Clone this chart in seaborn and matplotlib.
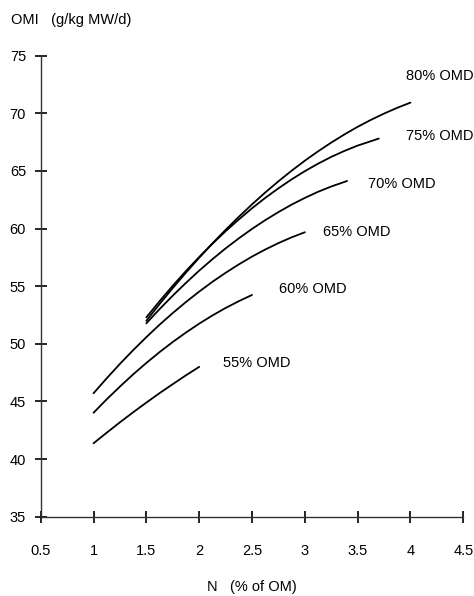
import matplotlib
matplotlib.use("Agg")
import matplotlib.pyplot as plt
import seaborn as sns
import pandas as pd

# ---- data ----
omd_labels = ["55% OMD", "60% OMD", "65% OMD", "70% OMD", "75% OMD", "80% OMD"]
n_55 = [1.0, 1.125, 1.25, 1.375, 1.5, 1.625, 1.75, 1.875, 2.0]
omi_55 = [41.37, 42.29, 43.19, 44.06, 44.90, 45.72, 46.50, 47.27, 48.00]
n_60 = [1.0, 1.125, 1.25, 1.375, 1.5, 1.625, 1.75, 1.875, 2.0, 2.125, 2.25, 2.375, 2.5]
omi_60 = [44.02, 45.19, 46.29, 47.35, 48.34, 49.28, 50.16, 50.98, 51.75, 52.46, 53.11,
          53.70, 54.24]
n_65 = [1.0, 1.125, 1.25, 1.375, 1.5, 1.625, 1.75, 1.875, 2.0, 2.125, 2.25, 2.375,
        2.5, 2.625, 2.75, 2.875, 3.0]
omi_65 = [45.71, 47.01, 48.26, 49.45, 50.58, 51.66, 52.67, 53.63, 54.53, 55.38, 56.16,
          56.89, 57.57, 58.18, 58.74, 59.24, 59.68]
n_70 = [1.5, 1.625, 1.75, 1.875, 2.0, 2.125, 2.25, 2.375, 2.5, 2.625, 2.75, 2.875,
        3.0, 3.125, 3.25, 3.4]
omi_70 = [51.78, 53.01, 54.18, 55.29, 56.35, 57.34, 58.28, 59.15, 59.97, 60.73, 61.43,
          62.08, 62.66, 63.19, 63.65, 64.13]
n_75 = [1.5, 1.625, 1.75, 1.875, 2.0, 2.125, 2.25, 2.375, 2.5, 2.625, 2.75, 2.875,
        3.0, 3.125, 3.25, 3.375, 3.5, 3.7]
omi_75 = [52.30, 53.70, 55.04, 56.32, 57.53, 58.68, 59.77, 60.79, 61.76, 62.66, 63.49,
          64.27, 64.98, 65.63, 66.22, 66.74, 67.20, 67.81]
n_80 = [1.5, 1.625, 1.75, 1.875, 2.0, 2.125, 2.25, 2.375, 2.5, 2.625, 2.75, 2.875,
        3.0, 3.125, 3.25, 3.375, 3.5, 3.625, 3.75, 3.875, 4.0]
omi_80 = [52.00, 53.45, 54.84, 56.18, 57.47, 58.71, 59.89, 61.02, 62.10, 63.13, 64.10,
          65.02, 65.89, 66.70, 67.46, 68.17, 68.83, 69.43, 69.98, 70.48, 70.93]

x_ticks = [0.5, 1, 1.5, 2, 2.5, 3, 3.5, 4, 4.5]
x_ticklabels = ["0.5", "1", "1.5", "2", "2.5", "3", "3.5", "4", "4.5"]
y_ticks = [35, 40, 45, 50, 55, 60, 65, 70, 75]

# label anchor positions (left edge, vertical centre) in data units
label_pos = [(2.23, 48.3), (2.76, 54.8), (3.17, 59.7), (3.60, 63.9), (3.96, 68.0), (3.96, 73.2)]

frames = []
for lab, ns, vs in zip(omd_labels,
                       [n_55, n_60, n_65, n_70, n_75, n_80],
                       [omi_55, omi_60, omi_65, omi_70, omi_75, omi_80]):
    frames.append(pd.DataFrame({"N": ns, "OMI": vs, "OMD": lab}))
df = pd.concat(frames, ignore_index=True)

sns.set_theme(style="white")
fam = ["Liberation Sans Narrow", "Liberation Sans", "DejaVu Sans"]
plt.rcParams["font.family"] = fam

fig = plt.figure(figsize=(4.74, 5.96), dpi=100)
ax = fig.add_axes([40.7 / 474, 1 - 516.7 / 596, (463.3 - 40.7) / 474, (516.7 - 55.7) / 596])

sns.lineplot(data=df, x="N", y="OMI", hue="OMD", palette=["black"] * 6,
             legend=False, sort=False, estimator=None, linewidth=1.3, ax=ax)

ax.set_xlim(0.5, 4.5)
ax.set_ylim(35, 75)
ax.set_xticks(x_ticks)
ax.set_xticklabels(x_ticklabels)
ax.set_yticks(y_ticks)
ax.set_xlabel("")
ax.set_ylabel("")
for s in ["top", "right"]:
    ax.spines[s].set_visible(False)
for s in ["left", "bottom"]:
    ax.spines[s].set_color("#333333")
    ax.spines[s].set_linewidth(1.0)
ax.tick_params(axis="both", bottom=True, left=True, direction="inout", length=9,
               width=1.2, color="black", labelsize=10.5, labelcolor="black")
ax.tick_params(axis="x", pad=15.5)
ax.tick_params(axis="y", pad=6)
ax.patch.set_alpha(0)

for lab, (x, y) in zip(omd_labels, label_pos):
    ax.text(x, y, lab, ha="left", va="center", fontsize=10.5, color="black", family=fam)

fig.text(11 / 474, 1 - 20 / 596, "OMI   (g/kg MW/d)", ha="left", va="center",
         fontsize=10.5, color="black", family=fam)
fig.text(252 / 474, 1 - 587 / 596, "N   (% of OM)", ha="center", va="center",
         fontsize=10.5, color="black", family=fam)

fig.savefig("out.png", dpi=100, facecolor="white")
